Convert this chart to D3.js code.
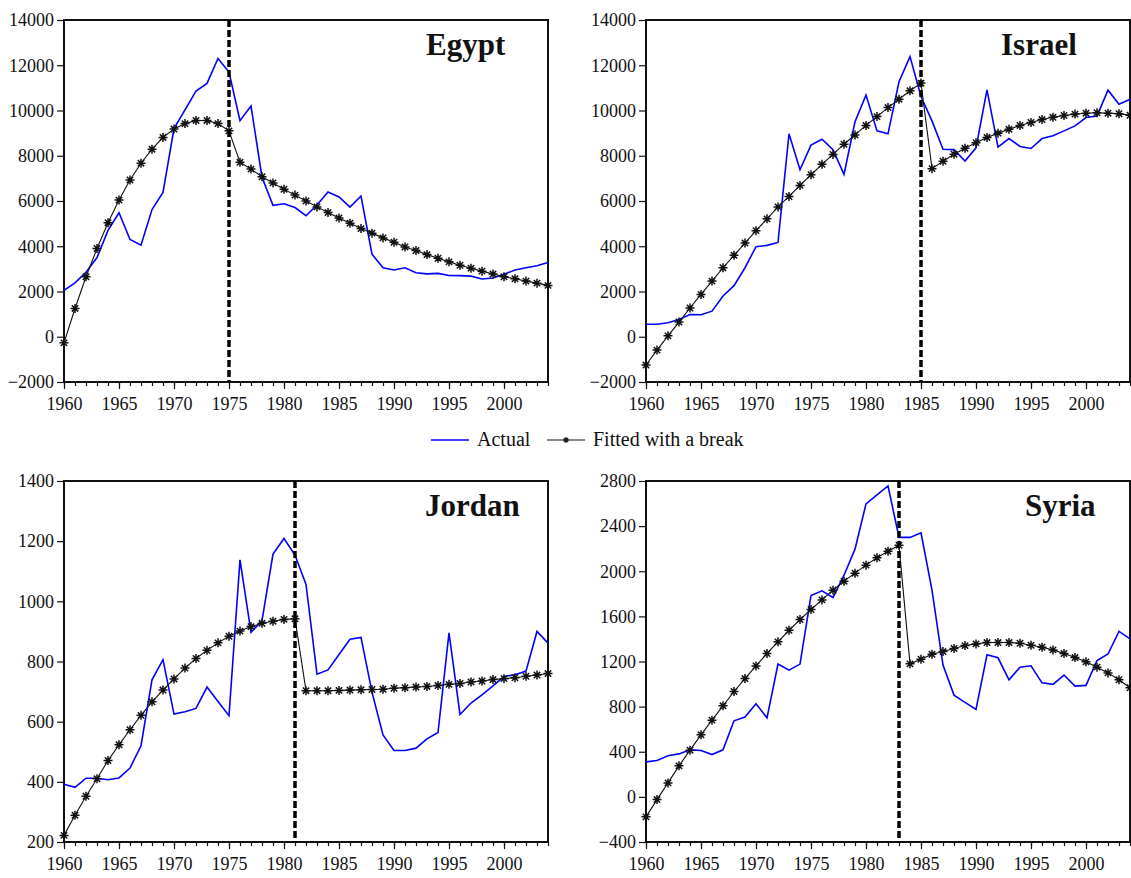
<!DOCTYPE html>
<html>
<head>
<meta charset="utf-8">
<script src="https://cdn.jsdelivr.net/npm/d3@7/dist/d3.min.js"></script>
<style>
  body { margin: 0; background: #fff; }
  svg text { font-family: "Liberation Serif", "DejaVu Serif", serif; fill: #111; }
</style>
</head>
<body>
<div class="chart"></div>
<script>
// years 1960..2004
const years = d3.range(1960, 2005)
const xTickLabels = [1960, 1965, 1970, 1975, 1980, 1985, 1990, 1995, 2000]

const egyptActual = [2050, 2380, 2850, 3500, 4700, 5480, 4300, 4050, 5620, 6380,
  9200, 10030, 10860, 11200, 12300, 11700, 9550, 10200, 7050, 5810,
  5880, 5710, 5350, 5820, 6400, 6180, 5730, 6220, 3650, 3050,
  2950, 3050, 2830, 2780, 2800, 2710, 2700, 2680, 2550, 2600,
  2760, 2950, 3050, 3140, 3280]
const egyptFitted = [-270, 1250, 2650, 3900, 5040, 6040, 6930, 7670, 8290, 8810,
  9180, 9420, 9560, 9560, 9420, 9100, 7710, 7410, 7070, 6800,
  6520, 6260, 6000, 5740, 5490, 5250, 5020, 4780, 4580, 4370,
  4180, 3970, 3810, 3630, 3470, 3310, 3160, 3030, 2900, 2770,
  2650, 2560, 2460, 2370, 2270]

const israelActual = [550, 550, 620, 760, 980, 970, 1130, 1800, 2260, 3050,
  3980, 4040, 4170, 8970, 7380, 8470, 8730, 8270, 7180, 9500,
  10680, 9100, 8970, 11270, 12380, 10620, 9540, 8290, 8270, 7770,
  8350, 10910, 8380, 8760, 8410, 8320, 8760, 8880, 9100, 9320,
  9690, 9760, 10900, 10280, 10500]
const israelFitted = [-1250, -590, 40, 650, 1270, 1870, 2460, 3050, 3600, 4140,
  4690, 5210, 5740, 6200, 6690, 7160, 7620, 8060, 8510, 8920,
  9340, 9730, 10130, 10500, 10870, 11210, 7430, 7760, 8070, 8330,
  8580, 8810, 9000, 9170, 9340, 9470, 9600, 9700, 9780, 9840,
  9880, 9900, 9880, 9860, 9790]

const jordanActual = [392, 382, 412, 412, 407, 413, 446, 520, 739, 806,
  625, 633, 644, 715, 667, 620, 1138, 897, 936, 1157,
  1209, 1154, 1056, 758, 772, 823, 874, 880, 698, 556,
  504, 504, 512, 543, 564, 895, 624, 662, 689, 719,
  750, 756, 768, 900, 861]
const jordanFitted = [222, 289, 352, 410, 471, 523, 573, 621, 666, 705,
  742, 778, 810, 837, 862, 884, 901, 916, 927, 934,
  940, 942, 703, 703, 703, 704, 705, 706, 707, 708,
  711, 713, 715, 717, 720, 724, 727, 732, 735, 740,
  743, 746, 751, 755, 760]

const syriaActual = [310, 322, 364, 381, 417, 411, 375, 417, 674, 707,
  825, 701, 1177, 1123, 1177, 1785, 1826, 1767, 1965, 2196,
  2597, 2677, 2757, 2300, 2300, 2341, 1832, 1168, 902, 837,
  775, 1260, 1233, 1038, 1150, 1162, 1011, 997, 1080, 982,
  988, 1209, 1266, 1467, 1400]
const syriaFitted = [-177, -24, 124, 275, 414, 550, 680, 807, 934, 1049,
  1161, 1271, 1374, 1477, 1572, 1661, 1746, 1832, 1912, 1983,
  2054, 2119, 2178, 2231, 1179, 1220, 1264, 1288, 1315, 1341,
  1356, 1368, 1368, 1368, 1362, 1344, 1327, 1303, 1271, 1235,
  1197, 1150, 1099, 1038, 967]

const countries = ['Egypt', 'Israel', 'Jordan', 'Syria']
const breakYears = [1975, 1985, 1981, 1983]
const yDomains = [[-2000, 14000], [-2000, 14000], [200, 1400], [-400, 2800]]
const yTickSteps = [2000, 2000, 200, 400]
const actualSeries = [egyptActual, israelActual, jordanActual, syriaActual]
const fittedSeries = [egyptFitted, israelFitted, jordanFitted, syriaFitted]
const legendLabels = ['Actual', 'Fitted with a break']

// layout of the four boxes
const boxes = [
  {left: 64, right: 548, top: 20, bottom: 382, titleX: 426},
  {left: 646, right: 1130, top: 20, bottom: 382, titleX: 1001},
  {left: 64, right: 548, top: 481, bottom: 842, titleX: 425},
  {left: 646, right: 1130, top: 481, bottom: 842, titleX: 1025}
]

const serif = '"Liberation Serif", "DejaVu Serif", serif'
const width = 1131
const height = 878

const svg = d3.select('.chart')
  .append('svg')
    .attr('width', width)
    .attr('height', height)

// asterisk marker path
function star(r){
  const d = r * 0.7071
  return `M${-r},0L${r},0M0,${-r}L0,${r}M${-d},${-d}L${d},${d}M${-d},${d}L${d},${-d}`
}

countries.forEach((name, i) => {
  const b = boxes[i]
  const x = d3.scaleLinear().domain([1960, 2004]).range([b.left, b.right])
  const y = d3.scaleLinear().domain(yDomains[i]).range([b.bottom, b.top])
  const g = svg.append('g')

  // y axis
  const yTicks = d3.range(yDomains[i][0], yDomains[i][1] + 1, yTickSteps[i])
  g.append('g')
      .attr('transform', `translate(${b.left},0)`)
      .call(d3.axisLeft(y).tickValues(yTicks).tickFormat(d3.format('d')).tickSize(7).tickPadding(3))
      .attr('font-family', serif)
      .call(a => a.select('.domain').remove())
      .call(a => a.selectAll('line').attr('stroke', '#111').attr('stroke-width', 1.2))
      .call(a => a.selectAll('text').attr('font-size', 18).style('font-family', serif).attr('fill', '#111'))

  // x axis: minor ticks every year, major every 5
  g.append('g')
      .attr('transform', `translate(0,${b.bottom})`)
      .call(d3.axisBottom(x).tickValues(years).tickSize(4).tickFormat(''))
      .call(a => a.select('.domain').remove())
      .call(a => a.selectAll('line').attr('stroke', '#111').attr('stroke-width', 1.2))
  g.append('g')
      .attr('transform', `translate(0,${b.bottom})`)
      .call(d3.axisBottom(x).tickValues(xTickLabels).tickSize(7).tickPadding(8).tickFormat(d3.format('d')))
      .attr('font-family', serif)
      .call(a => a.select('.domain').remove())
      .call(a => a.selectAll('line').attr('stroke', '#111').attr('stroke-width', 1.2))
      .call(a => a.selectAll('text').attr('font-size', 18).style('font-family', serif).attr('fill', '#111'))

  // frame
  g.append('rect')
    .attr('x', b.left).attr('y', b.top)
    .attr('width', b.right - b.left).attr('height', b.bottom - b.top)
    .attr('fill', 'none').attr('stroke', '#111').attr('stroke-width', 2)

  const lineGen = d3.line().x((d, j) => x(years[j])).y(d => y(d))

  // actual
  g.append('path')
    .datum(actualSeries[i])
    .attr('d', lineGen)
    .attr('fill', 'none')
    .attr('stroke', '#0000ff')
    .attr('stroke-width', 1.6)

  // fitted
  g.append('path')
    .datum(fittedSeries[i])
    .attr('d', lineGen)
    .attr('fill', 'none')
    .attr('stroke', '#111')
    .attr('stroke-width', 1.1)
  g.selectAll('.mk')
    .data(fittedSeries[i])
    .join('path')
      .attr('class', 'mk')
      .attr('d', star(4.5))
      .attr('transform', (d, j) => `translate(${x(years[j])},${y(d)})`)
      .attr('stroke', '#111')
      .attr('stroke-width', 1.5)

  // break line
  g.append('line')
    .attr('x1', x(breakYears[i])).attr('x2', x(breakYears[i]))
    .attr('y1', b.top).attr('y2', b.bottom)
    .attr('stroke', '#000')
    .attr('stroke-width', 3.5)
    .attr('stroke-dasharray', '7,3')

  // title
  g.append('text')
    .attr('x', b.titleX)
    .attr('y', b.top + 35)
    .attr('font-size', 31)
    .attr('font-weight', 'bold')
    .text(name)
})

// legend
const lg = svg.append('g').attr('transform', 'translate(0,440)')
lg.append('line').attr('x1', 431).attr('x2', 469).attr('y1', 0).attr('y2', 0)
  .attr('stroke', '#0000ff').attr('stroke-width', 1.6)
lg.append('text').attr('x', 477).attr('y', 6).attr('font-size', 20).text(legendLabels[0])
lg.append('line').attr('x1', 547).attr('x2', 585).attr('y1', 0).attr('y2', 0)
  .attr('stroke', '#111').attr('stroke-width', 1.1)
lg.append('path').attr('d', star(3)).attr('transform', 'translate(566,0)')
  .attr('stroke', '#111').attr('stroke-width', 1.1)
lg.append('text').attr('x', 593).attr('y', 6).attr('font-size', 20).text(legendLabels[1])
</script>
</body>
</html>
